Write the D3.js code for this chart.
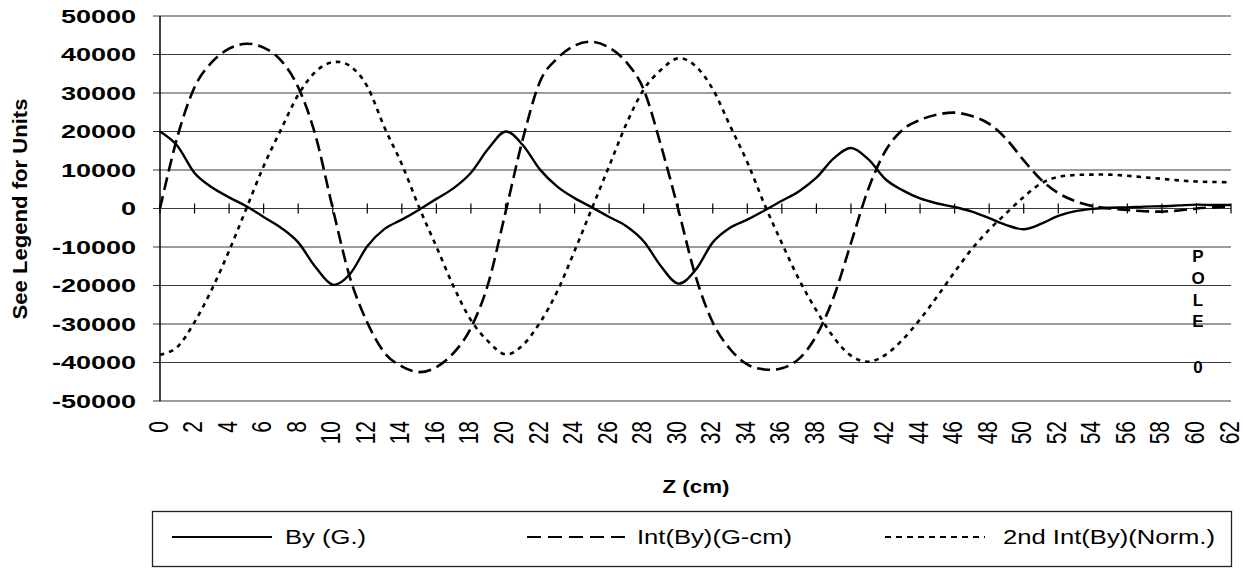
<!DOCTYPE html>
<html>
<head>
<meta charset="utf-8">
<script src="https://cdn.jsdelivr.net/npm/d3@7"></script>
<style>
  body { margin: 0; background: #fff; }
  text { font-family: "Liberation Sans", Arial, sans-serif; fill: #000; }
</style>
</head>
<body>
<div id="wrapper"></div>
<script>
// z positions (cm), one point per cm
const zValues = d3.range(0, 63);

const byValues = [
  20000, 16300, 9200, 5500, 2900, 600, -2200, -5000, -8800, -15200,
  -19800, -17000, -9800, -5300, -2900, -300, 2500, 5300, 9300, 15500,
  20000, 16500, 10100, 5700, 2700, 300, -2200, -4600, -8500, -15000,
  -19500, -16000, -8800, -5000, -2900, -500, 2000, 4500, 8000, 13000,
  15700, 12800, 7600, 4700, 2600, 1300, 400, -800, -2500, -4300,
  -5400, -4000, -1900, -700, -100, 200, 300, 500, 600, 800,
  1000, 900, 900
];

const intValues = [
  0, 18500, 31500, 38000, 41500, 42800, 41800, 38500, 31500, 19000,
  0, -18000, -29600, -37500, -41000, -42500, -41200, -37500, -31000, -19500,
  -1000, 18000, 33000, 39000, 42300, 43300, 41800, 38000, 30900, 16400,
  -200, -17500, -29600, -36500, -40500, -41800, -41500, -39000, -33000, -23000,
  -9000, 5000, 15000, 20500, 23000, 24400, 24900, 24000, 22000, 18000,
  12500, 7500, 4000, 1900, 600, 0, -400, -700, -800, -500,
  0, 300, 600
];

const int2Values = [
  -38000, -36000, -29500, -21000, -11000, 0, 11000, 20500, 29500, 35500,
  38000, 37000, 31700, 21000, 11500, 300, -9900, -20300, -29000, -34500,
  -37900, -35500, -29600, -21500, -11000, 0, 11000, 22000, 30900, 36000,
  39000, 37000, 31000, 21500, 12000, 1000, -9000, -18500, -26500, -33500,
  -38200, -39800, -38000, -34000, -28800, -22800, -16500, -10500, -5500, -1200,
  3000, 6500, 8200, 8700, 8800, 8800, 8500, 8100, 7700, 7300,
  7000, 6900, 6800
];

const seriesNames = ["By (G.)", "Int(By)(G-cm)", "2nd  Int(By)(Norm.)"];
const yTickValues = d3.range(-50000, 50001, 10000);
const xTickValues = d3.range(0, 63, 2);
const poleLetters = ["P", "O", "L", "E", "0"];

const width = 1243, height = 569;
const plot = { left: 160, right: 1231, top: 16, bottom: 401 };

const svg = d3.select("#wrapper").append("svg")
  .attr("width", width)
  .attr("height", height);

const xScale = d3.scaleLinear().domain([0, 62]).range([plot.left, plot.right]);
const yScale = d3.scaleLinear().domain([-50000, 50000]).range([plot.bottom, plot.top]);

// gridlines + left ticks
svg.append("g").selectAll("line")
  .data(yTickValues)
  .join("line")
  .attr("x1", plot.left - 7)
  .attr("x2", plot.right)
  .attr("y1", d => yScale(d))
  .attr("y2", d => yScale(d))
  .attr("stroke", "#3a3a3a")
  .attr("stroke-width", 1.1);

// y axis line
svg.append("line")
  .attr("x1", plot.left).attr("x2", plot.left)
  .attr("y1", plot.top).attr("y2", plot.bottom)
  .attr("stroke", "#000").attr("stroke-width", 1.5);

// y tick labels (wide print face)
svg.append("g").selectAll("text")
  .data(yTickValues)
  .join("text")
  .attr("transform", d => `translate(136,${yScale(d) + 6.5}) scale(1.5,1)`)
  .attr("text-anchor", "end")
  .attr("font-weight", "bold")
  .attr("font-size", 18)
  .text(d => d);

// x axis cross ticks on the zero line
svg.append("g").selectAll("line")
  .data(xTickValues)
  .join("line")
  .attr("x1", d => xScale(d)).attr("x2", d => xScale(d))
  .attr("y1", yScale(0) - 5).attr("y2", yScale(0) + 5)
  .attr("stroke", "#000").attr("stroke-width", 1.2);

// x tick labels, rotated
svg.append("g").selectAll("text")
  .data(xTickValues)
  .join("text")
  .attr("transform", d => `translate(${xScale(d) + 7.5},421) scale(1.3,1) rotate(-90)`)
  .attr("text-anchor", "end")
  .attr("font-size", 21)
  .text(d => d);

// axis titles
svg.append("text")
  .attr("transform", "translate(27,209) rotate(-90)")
  .attr("text-anchor", "middle")
  .attr("font-weight", "bold")
  .attr("font-size", 20)
  .attr("textLength", 221)
  .attr("lengthAdjust", "spacingAndGlyphs")
  .text("See Legend for Units");

svg.append("text")
  .attr("transform", "translate(696,493) scale(1.24,1)")
  .attr("text-anchor", "middle")
  .attr("font-weight", "bold")
  .attr("font-size", 18)
  .text("Z (cm)");

// POLE 0 marker
const poleY = [262, 284, 306, 327, 373];
svg.append("g").selectAll("text")
  .data(poleLetters)
  .join("text")
  .attr("x", 1198)
  .attr("y", (d, i) => poleY[i])
  .attr("text-anchor", "middle")
  .attr("font-weight", "bold")
  .attr("font-size", 17)
  .text(d => d);

// lines
const styles = [
  { dash: null, width: 2.4 },
  { dash: "13,6", width: 2.6 },
  { dash: "4.5,5", width: 2.6 }
];
const seriesData = [byValues, intValues, int2Values];

const line = d3.line()
  .x((d, i) => xScale(zValues[i]))
  .y(d => yScale(d))
  .curve(d3.curveCardinal.tension(0));

svg.append("g").selectAll("path")
  .data(seriesData)
  .join("path")
  .attr("d", d => line(d))
  .attr("fill", "none")
  .attr("stroke", "#000")
  .attr("stroke-width", (d, i) => styles[i].width)
  .attr("stroke-dasharray", (d, i) => styles[i].dash);

// legend
const legend = svg.append("g");
legend.append("rect")
  .attr("x", 152.5).attr("y", 511.5)
  .attr("width", 1079).attr("height", 55)
  .attr("fill", "#fff")
  .attr("stroke", "#222").attr("stroke-width", 1.3);

const legendPos = [
  { x1: 172, x2: 272, tx: 285, dash: null },
  { x1: 527, x2: 627, tx: 637, dash: "14,7" },
  { x1: 885, x2: 985, tx: 1003, dash: "6,5" }
];

legendPos.forEach((p, i) => {
  legend.append("line")
    .attr("x1", p.x1).attr("x2", p.x2)
    .attr("y1", 537).attr("y2", 537)
    .attr("stroke", "#000").attr("stroke-width", 2)
    .attr("stroke-dasharray", p.dash);
  legend.append("text")
    .attr("transform", `translate(${p.tx},544) scale(1.22,1)`)
    .attr("font-size", 21)
    .text(seriesNames[i]);
});
</script>
</body>
</html>
